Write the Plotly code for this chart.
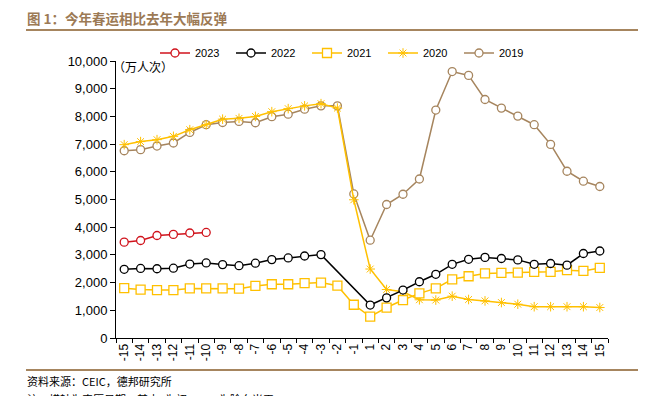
import plotly.graph_objects as go

days = [str(d) for d in range(-15, 0)] + [str(d) for d in range(1, 16)]

y2019 = [6760, 6800, 6930, 7040, 7420, 7700, 7780, 7820, 7770, 7990, 8080, 8260, 8380, 8380, 5200,
         3530, 4820, 5190, 5740, 8230, 9620, 9480, 8610, 8300, 8010, 7700, 6990, 6020, 5660, 5470]
y2020 = [6980, 7090, 7160, 7280, 7520, 7700, 7900, 7930, 8000, 8170, 8280, 8380, 8460, 8300, 4990,
         2490, 1750, 1670, 1380, 1370, 1510, 1390, 1340, 1280, 1220, 1130, 1130, 1130, 1130, 1100]
y2021 = [1800, 1750, 1730, 1730, 1790, 1790, 1790, 1780, 1880, 1940, 1940, 1980, 2000, 1890, 1200,
         770, 1100, 1370, 1610, 1790, 2120, 2230, 2330, 2350, 2360, 2390, 2390, 2450, 2420, 2530]
y2022 = [2480, 2510, 2500, 2520, 2670, 2710, 2650, 2610, 2700, 2830, 2890, 2960, 3010, None, None,
         1190, 1450, 1730, 2030, 2300, 2660, 2840, 2910, 2870, 2820, 2660, 2690, 2630, 3050, 3140]
y2023 = [3460, 3520, 3700, 3740, 3790, 3810] + [None] * 24

series = [
    ("2023", y2023, "#d0131c", "circle", 8),
    ("2022", y2022, "#000000", "circle", 8),
    ("2021", y2021, "#ffc000", "square", 9),
    ("2020", y2020, "#ffc000", "asterisk-open", 8),
    ("2019", y2019, "#a6855e", "circle", 8),
]

# visible plot-area geometry (page has an 8px body offset)
PL, PR, PT, PB = 116, 608, 61, 338


def px(xv):
    return (xv - PL) / (PR - PL)


def py(yv):
    return (PB - yv) / (PB - PT)


fig = go.Figure()
for name, vals, color, sym, size in reversed(series):
    if sym == "asterisk-open":
        marker = dict(symbol=sym, size=size, color=color, line=dict(color=color, width=1))
    else:
        marker = dict(symbol=sym, size=size, color="white", line=dict(color=color, width=1.3))
    fig.add_trace(go.Scatter(
        x=days, y=vals, name=name, mode="lines+markers",
        line=dict(color=color, width=1.5), marker=marker,
        connectgaps=True,
    ))

fig.update_layout(
    width=646, height=396,
    margin=dict(l=PL - 8, r=646 - (PR - 8), t=PT - 8, b=396 - (PB - 8), autoexpand=False),
    paper_bgcolor="white", plot_bgcolor="white",
    font=dict(family="Liberation Sans, Arial, sans-serif", size=12, color="#000"),
    showlegend=True,
    legend=dict(orientation="h", x=px(155), xanchor="left", y=py(53), yanchor="middle",
                traceorder="reversed", font=dict(size=11),
                entrywidth=31, entrywidthmode="pixels", itemwidth=30,
                bgcolor="rgba(0,0,0,0)"),
    xaxis=dict(type="category", categoryorder="array", categoryarray=days,
               range=[-0.5, len(days) - 0.5],
               tickangle=-90, showline=True, linecolor="#000", linewidth=1,
               ticks="outside", tickson="boundaries", ticklen=4, tickcolor="#000",
               showgrid=False, zeroline=False, tickfont=dict(size=12)),
    yaxis=dict(range=[0, 10000], dtick=1000, tickformat=",", showline=True,
               linecolor="#000", linewidth=1, ticks="outside", ticklen=5,
               tickcolor="#000", showgrid=False, zeroline=False, tickfont=dict(size=13)),
)

fig.add_annotation(text="图 1：今年春运相比去年大幅反弹", xref="paper", yref="paper",
                   x=px(26), y=py(18), xanchor="left", yanchor="middle",
                   showarrow=False, borderpad=0,
                   font=dict(family="Noto Sans CJK SC", size=13.5, color="#9c7a55", weight="bold"))
fig.add_shape(type="line", xref="paper", yref="paper",
              x0=px(26), x1=px(660), y0=py(30), y1=py(30),
              line=dict(color="#a6855e", width=2))
fig.add_annotation(text="（万人次）", xref="paper", yref="paper",
                   x=px(111), y=py(67), xanchor="left", yanchor="middle", showarrow=False,
                   font=dict(family="Noto Sans CJK SC", size=12, color="#000"))
fig.add_shape(type="line", xref="paper", yref="paper",
              x0=px(26), x1=px(660), y0=py(370), y1=py(370),
              line=dict(color="#a6855e", width=2))
fig.add_annotation(text="资料来源：CEIC，德邦研究所", xref="paper", yref="paper",
                   x=px(25), y=py(381), xanchor="left", yanchor="middle",
                   showarrow=False, font=dict(family="Noto Sans CJK SC", size=11, color="#000"))
fig.add_annotation(text="注：横轴为农历日期，其中1为初一，-1为除夕当天", xref="paper", yref="paper",
                   x=px(25), y=py(399), xanchor="left", yanchor="middle",
                   showarrow=False, font=dict(family="Noto Sans CJK SC", size=11, color="#000"))

fig.write_html("out.html")
